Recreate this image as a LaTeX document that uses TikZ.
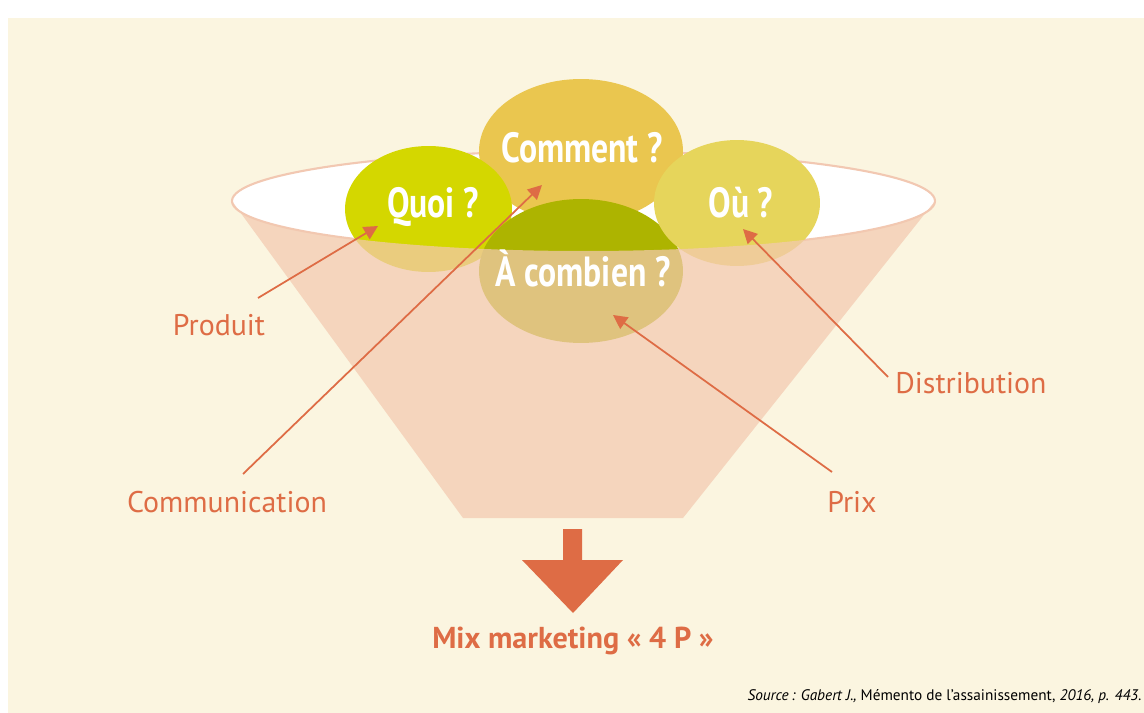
\documentclass[tikz,border=0pt]{standalone}
\usepackage{fontspec}
\setmainfont{PT Sans}
\newfontfamily\narrowfont[FakeStretch=0.8]{PT Sans}
\usetikzlibrary{shapes.geometric,arrows.meta}

\definecolor{cream}{HTML}{FBF5E0}
\definecolor{peach}{HTML}{F3C9B0}
\definecolor{rim}{HTML}{F2C8B2}
\definecolor{rust}{HTML}{DE6C45}
\definecolor{lime}{HTML}{D4D700}
\definecolor{mustard}{HTML}{EAC64F}
\definecolor{straw}{HTML}{E6D55B}
\definecolor{olive}{HTML}{ADB400}

\begin{document}
\begin{tikzpicture}[x=0.02cm, y=-0.02cm,
    every node/.style={font=\fontsize{17}{19}\selectfont, text=rust},
    bubble/.style={ellipse, inner sep=0pt, outer sep=0pt},
    bubbletext/.style={text=white, font=\narrowfont\bfseries\fontsize{24}{27}\selectfont},
    pointer/.style={draw=rust, line width=1pt, -{Triangle[length=8pt, width=8pt]}}]
    \useasboundingbox (0,0) rectangle (1144,713);
    % page background
    \fill[cream] (8,18) rectangle (1144,713);
    % funnel opening
    \draw[rim, line width=1.2pt, fill=white] (583.5,201) ellipse [x radius=351.5, y radius=50];
    % the four questions
    \node[bubble, fill=mustard, minimum width=4.08cm, minimum height=2.88cm] (comment) at (581,151) {};
    \node[bubble, fill=lime, minimum width=3.34cm, minimum height=2.52cm] (quoi) at (428.5,209) {};
    \node[bubble, fill=olive, minimum width=4.08cm, minimum height=2.88cm] (combien) at (581,271) {};
    \node[bubble, fill=straw, minimum width=3.32cm, minimum height=2.52cm] (ou) at (737,203) {};
    % funnel body, see-through over the bubbles
    \fill[peach, opacity=0.72] (232,201) -- (463,518) -- (683,518) -- (935,201)
        arc [start angle=0, end angle=180, x radius=351.5, y radius=50] -- cycle;
    % question texts
    \node[bubbletext] (commentText) at (582,148) {Comment ?};
    \node[bubbletext] (quoiText) at (433,207) {Quoi ?};
    \node[bubbletext] (combienText) at (583,268) {À combien ?};
    \node[bubbletext] (ouText) at (741,203) {Où ?};
    % the 4 P
    \node (produit) at (219,325) {Produit};
    \node (communication) at (227,502) {Communication};
    \node (distribution) at (971,383) {Distribution};
    \node (prix) at (852,502) {Prix};
    \coordinate (produitFoot) at (258,298);
    \coordinate (communicationFoot) at (243,474);
    \coordinate (distributionFoot) at (888,377);
    \coordinate (prixFoot) at (832,472);
    \coordinate (quoiTip) at (378,226);
    \coordinate (commentTip) at (542,185);
    \coordinate (ouTip) at (743,229);
    \coordinate (combienTip) at (613,315);
    \draw[pointer] (produitFoot) -- (quoiTip);
    \draw[pointer] (communicationFoot) -- (commentTip);
    \draw[pointer] (distributionFoot) -- (ouTip);
    \draw[pointer] (prixFoot) -- (combienTip);
    % output of the funnel
    \fill[rust] (563,529) -- (582,529) -- (582,560) -- (623,560) -- (573,613)
        -- (522,560) -- (563,560) -- cycle;
    \node[font=\bfseries\fontsize{17.2}{19}\selectfont] (mix) at (573,641) {Mix marketing «~4~P~»};
    \node[anchor=east, inner sep=0pt, text=black, font=\fontsize{8.7}{10}\selectfont] (source) at (1142,697)
        {\textit{Source\,: Gabert J.,} Mémento de l’assainissement, \textit{2016, p. 443.}};
\end{tikzpicture}
\end{document}
